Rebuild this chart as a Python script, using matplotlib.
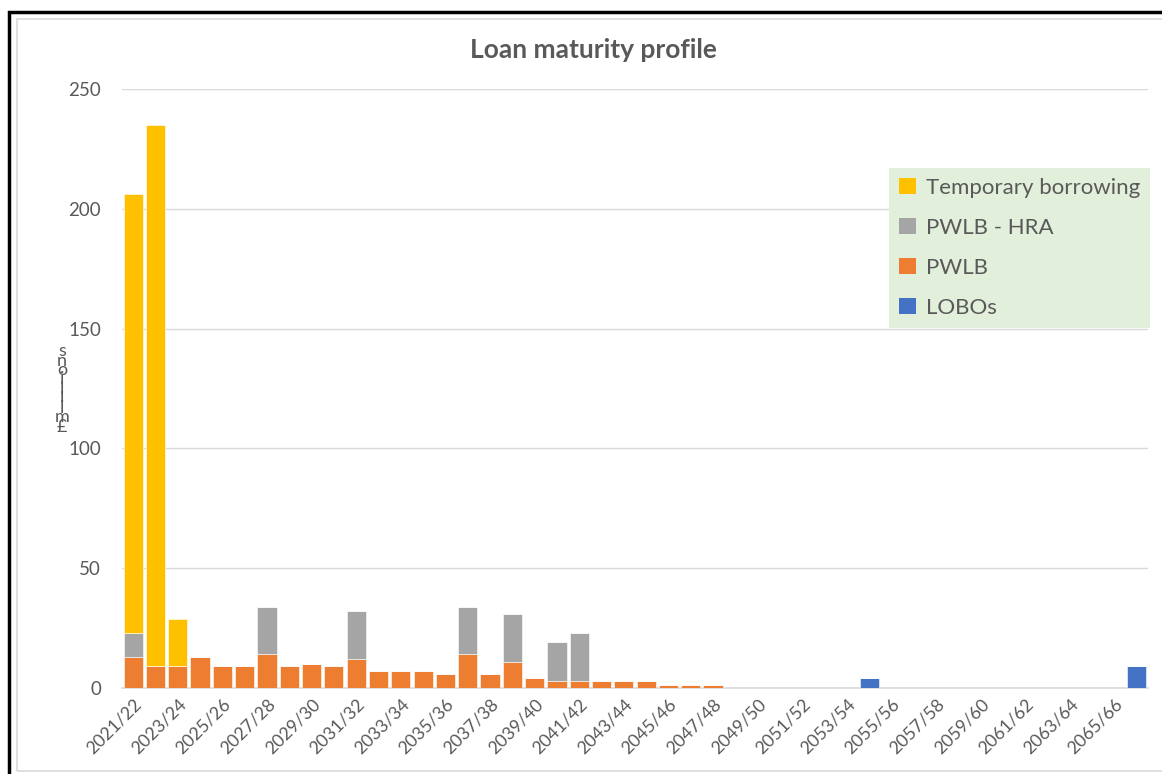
import matplotlib
import matplotlib.pyplot as plt
from matplotlib.patches import Rectangle, Patch

matplotlib.use("Agg")

years = [f"{y}/{str(y + 1)[-2:]}" for y in range(2021, 2067)]

lobos = [0] * 46
lobos[33] = 4
lobos[45] = 9

pwlb = [13, 9, 9, 13, 9, 9, 14, 9, 10, 9, 12, 7, 7, 7, 6, 14, 6, 11, 4, 3,
        3, 3, 3, 3, 1.2, 1.2, 1.2] + [0] * 19

pwlb_hra = [10, 0, 0, 0, 0, 0, 20, 0, 0, 0, 20, 0, 0, 0, 0, 20, 0, 20, 0, 16,
            20] + [0] * 25

temporary = [183, 226, 20] + [0] * 43

series = [
    ("LOBOs", lobos, "#4472C4"),
    ("PWLB", pwlb, "#ED7D31"),
    ("PWLB - HRA", pwlb_hra, "#A5A5A5"),
    ("Temporary borrowing", temporary, "#FFC000"),
]

plt.rcParams["font.family"] = ["Lato", "DejaVu Sans"]
text_col = "#595959"

W, H = 1162, 774
fig = plt.figure(figsize=(W / 100, H / 100), dpi=100)

# outer frames
fig.patches.append(Rectangle((9 / W, -0.1), 1.2, 1 - 12 / H + 0.1, transform=fig.transFigure,
                             fill=False, edgecolor="black", linewidth=2.5))
fig.patches.append(Rectangle((17 / W, 3 / H), 1.2, 1 - 22 / H, transform=fig.transFigure,
                             fill=False, edgecolor="#D9D9D9", linewidth=1.2))

ax = fig.add_axes([122 / W, (H - 688) / H, 1026 / W, (688 - 89) / H])

x = list(range(len(years)))
bottom = [0] * len(years)
handles = {}
for name, vals, col in series:
    ax.bar(x, vals, width=0.86, bottom=bottom, color=col, edgecolor="white",
           linewidth=0.4, zorder=3)
    bottom = [b + v for b, v in zip(bottom, vals)]
    handles[name] = Patch(facecolor=col, edgecolor="none")

ax.set_xlim(-0.5, len(years) - 0.5)
ax.set_ylim(0, 250)
ax.set_yticks(range(0, 251, 50))
ax.grid(axis="y", color="#D9D9D9", linewidth=1, zorder=0)
for s in ["top", "right", "left"]:
    ax.spines[s].set_visible(False)
ax.spines["bottom"].set_color("#D9D9D9")
ax.spines["bottom"].set_linewidth(1.2)
ax.tick_params(axis="both", length=0, labelsize=13.5, labelcolor=text_col)
ax.tick_params(axis="y", pad=15)

ax.set_xticks(x[::2])
ax.set_xticklabels(years[::2], rotation=45, ha="right", rotation_mode="anchor")
ax.tick_params(axis="x", pad=6, labelsize=12.8)

fig.text(593 / W, 1 - 50 / H, "Loan maturity profile", ha="center", va="center",
         fontsize=19, fontweight="bold", color=text_col)

# stacked y-axis label as in the original (characters upright, read bottom-up)
fig.text(62 / W, 1 - 389 / H, "\n".join(reversed("£millions")), ha="center", va="center",
         fontsize=13, color=text_col, linespacing=0.5)

order = ["Temporary borrowing", "PWLB - HRA", "PWLB", "LOBOs"]
leg = fig.legend([handles[n] for n in order], order, loc="upper left",
                 bbox_to_anchor=(889 / W, 1 - 168 / H), frameon=True, fancybox=False,
                 facecolor="#E2EFDA", edgecolor="none", framealpha=1,
                 fontsize=16, handlelength=0.75, handleheight=0.75, handletextpad=0.45,
                 labelspacing=0.9, borderpad=0.45, borderaxespad=0)
for t in leg.get_texts():
    t.set_color(text_col)

fig.savefig("out.png", dpi=100)
